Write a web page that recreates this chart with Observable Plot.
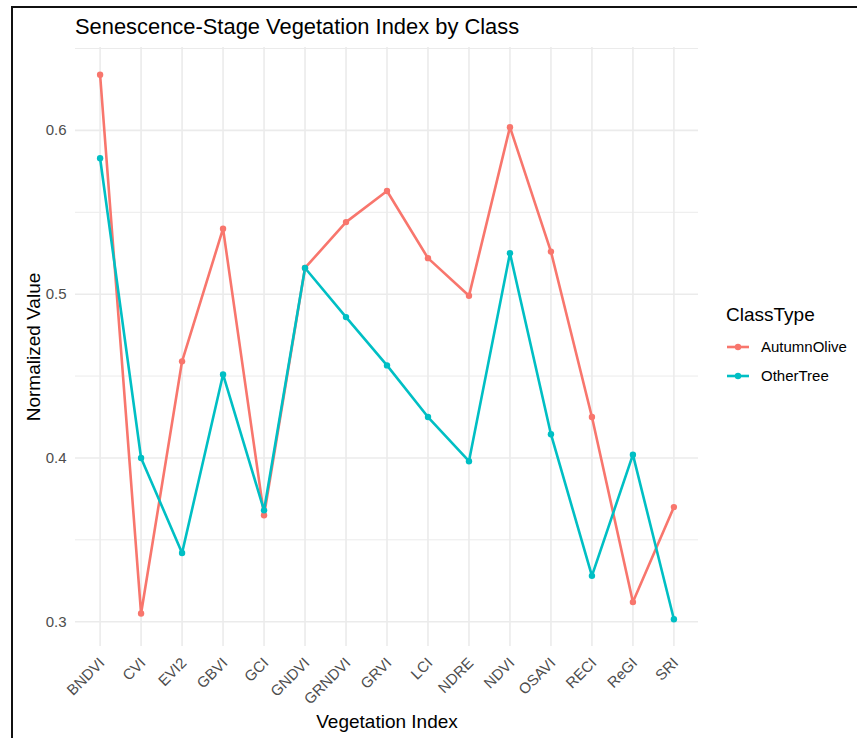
<!DOCTYPE html>
<html>
<head>
<meta charset="utf-8">
<script src="https://cdn.jsdelivr.net/npm/d3@7"></script>
<script src="https://cdn.jsdelivr.net/npm/@observablehq/plot@0.6"></script>
<style>
  html, body { margin: 0; padding: 0; background: #fff; }
  #wrap { position: relative; width: 857px; height: 738px; overflow: hidden; font-family: "Liberation Sans", Arial, sans-serif; }
  #border { position: absolute; left: 11px; top: 6px; right: -10px; bottom: -10px; border-left: 2px solid #111; border-top: 2px solid #111; pointer-events: none; }
  #title { position: absolute; left: 75px; top: 14px; font-size: 21.9px; line-height: 26px; color: #000; white-space: nowrap; }
  #chart { position: absolute; left: 0; top: 40px; }
  #legend { position: absolute; left: 726px; top: 303px; color: #000; }
  #legend .lt { font-size: 19px; line-height: 24px; margin-bottom: 5px; }
  #legend .item { display: flex; align-items: center; height: 29px; font-size: 15px; }
  #legend svg { margin-right: 11px; }
</style>
</head>
<body>
<div id="wrap">
  <div id="title">Senescence-Stage Vegetation Index by Class</div>
  <div id="chart"></div>
  <div id="legend"></div>
  <div id="border"></div>
</div>
<script>
const indices = ["BNDVI","CVI","EVI2","GBVI","GCI","GNDVI","GRNDVI","GRVI","LCI","NDRE","NDVI","OSAVI","RECI","ReGI","SRI"];
const autumnOlive = [0.634, 0.305, 0.459, 0.540, 0.365, 0.516, 0.544, 0.563, 0.522, 0.499, 0.602, 0.526, 0.425, 0.312, 0.370];
const otherTree   = [0.583, 0.400, 0.342, 0.451, 0.368, 0.516, 0.486, 0.4565, 0.425, 0.398, 0.525, 0.4145, 0.328, 0.402, 0.3015];
const classes = ["AutumnOlive", "OtherTree"];
const colors = ["#F8766D", "#00BFC4"];
const majorTicks = [0.3, 0.4, 0.5, 0.6];
const minorTicks = [0.35, 0.45, 0.55, 0.65];
const xTitle = "Vegetation Index";
const yTitle = "Normalized Value";
const legendTitle = "ClassType";

const series = [autumnOlive, otherTree];
const data = indices.flatMap((k, i) => classes.map((c, j) => ({index: k, value: series[j][i], cls: c})));

const all = data.map(d => d.value);
const lo = d3.min(all), hi = d3.max(all), pad = (hi - lo) * 0.05;

const chart = Plot.plot({
  width: 857,
  height: 698,
  marginLeft: 75,
  marginRight: 159,
  marginTop: 7,
  marginBottom: 92,
  style: {fontFamily: "Liberation Sans, Arial, sans-serif", background: "transparent", color: "#4D4D4D", overflow: "visible"},
  x: {type: "point", domain: indices, padding: 0.6, round: false},
  y: {domain: [lo - pad, hi + pad]},
  color: {domain: classes, range: colors},
  marks: [
    Plot.gridY(minorTicks, {stroke: "#EBEBEB", strokeOpacity: 1, strokeWidth: 1}),
    Plot.gridY(majorTicks, {stroke: "#EBEBEB", strokeOpacity: 1, strokeWidth: 1.6}),
    Plot.gridX(indices, {stroke: "#EBEBEB", strokeOpacity: 1, strokeWidth: 1.6}),
    Plot.axisY(majorTicks, {tickSize: 0, tickPadding: 9, tickFormat: d => d.toFixed(1), fontSize: 15, label: null}),
    Plot.axisX(indices, {tickSize: 0, tickPadding: 9, tickRotate: -45, fontSize: 15, label: null, dx: 2, dy: 5}),
    Plot.text([xTitle], {frameAnchor: "bottom", dy: 75, lineAnchor: "middle", fontSize: 19, fill: "#000"}),
    Plot.text([yTitle], {frameAnchor: "left", dx: -42, rotate: -90, lineAnchor: "middle", textAnchor: "middle", fontSize: 19, fill: "#000"}),
    Plot.line(data, {x: "index", y: "value", stroke: "cls", z: "cls", strokeWidth: 2.6}),
    Plot.dot(data, {x: "index", y: "value", fill: "cls", r: 3.2})
  ]
});
document.getElementById("chart").appendChild(chart);

// legend
const legend = document.getElementById("legend");
const lt = document.createElement("div");
lt.className = "lt";
lt.textContent = legendTitle;
legend.appendChild(lt);
classes.forEach((c, i) => {
  const item = document.createElement("div");
  item.className = "item";
  item.innerHTML = `<svg width="24" height="12"><line x1="1" x2="23" y1="6" y2="6" stroke="${colors[i]}" stroke-width="2.6"/><circle cx="12" cy="6" r="3.2" fill="${colors[i]}"/></svg><span>${c}</span>`;
  legend.appendChild(item);
});
</script>
</body>
</html>
